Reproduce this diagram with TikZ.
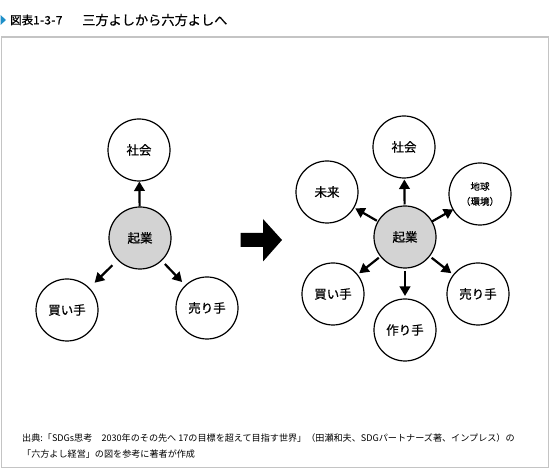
\documentclass[tikz,border=0pt]{standalone}
\usepackage{fontspec}
\setmainfont{Noto Sans CJK JP}
\newfontfamily\medfont{Noto Sans CJK JP}[FakeBold=0.6]
\newfontfamily\heavyfont{Noto Sans CJK JP}[FakeBold=0.9]
\usetikzlibrary{arrows.meta,calc}
\definecolor{framegray}{HTML}{C4C4C4}
\definecolor{titleblue}{HTML}{1E8FC8}
\definecolor{coregray}{HTML}{D3D3D3}
\tikzset{
  circ/.style={circle, draw=black, line width=1.2pt, minimum size=62pt, inner sep=0pt, align=center, font=\medfont\fontsize{12.5pt}{14pt}\selectfont},
  core/.style={circ, fill=coregray},
  arr/.style={line width=2.2pt, -{Triangle[length=9.5pt,width=10.5pt]}},
}
\newcommand{\linkarrow}[2]{\draw[arr] ($(#1)!0.5!(#2)!12.5pt!(#1)$) -- ($(#1)!0.5!(#2)!12.5pt!(#2)$);}
\begin{document}
\begin{tikzpicture}[x=1pt,y=-1pt]
\useasboundingbox (0,0) rectangle (550,470);
% title
\fill[titleblue] (0.5,15) -- (6,20) -- (0.5,25) -- cycle;
\node[anchor=west, inner sep=0pt, font=\heavyfont\fontsize{11.5pt}{13pt}\selectfont] (fig) at (10,20) {図表1\kern0.5pt-\kern0.5pt3\kern0.5pt-\kern0.5pt7};
\node[anchor=west, inner sep=0pt, font=\medfont\fontsize{13.2pt}{15pt}\selectfont] (title) at (82,20) {三方よしから六方よしへ};
% frame
\draw[framegray, line width=1.5pt] (1.5,37) rectangle (548.5,467.5);
% left diagram
\node[core] (c1) at (140,238) {起業};
\node[circ] (s1) at (139,150) {社会};
\node[circ] (b1) at (67,310) {買い手};
\node[circ] (u1) at (207,308) {売り手};
\linkarrow{c1}{s1}
\linkarrow{c1}{b1}
\linkarrow{c1}{u1}
% big arrow
\fill[black] (240.5,233) -- (263,233) -- (263,219) -- (282,240) -- (263,261.5) -- (263,247) -- (240.5,247) -- cycle;
% right diagram
\node[core] (c2) at (405,237) {起業};
\node[circ] (s2) at (404,147) {社会};
\node[circ] (m2) at (327,192) {未来};
\node[circ, font=\medfont\fontsize{9.5pt}{15pt}\selectfont] (e2) at (480,194) {地球\\（環境）};
\node[circ] (b2) at (333,294) {買い手};
\node[circ] (t2) at (405,330) {作り手};
\node[circ] (u2) at (478,294) {売り手};
\linkarrow{c2}{s2}
\linkarrow{c2}{m2}
\linkarrow{c2}{e2}
\linkarrow{c2}{b2}
\linkarrow{c2}{t2}
\linkarrow{c2}{u2}
% source
\node[anchor=west, inner sep=0pt, align=left, font=\fontsize{9.1pt}{16pt}\selectfont] (src) at (22,446) {出典:「SDGs思考　2030年のその先へ 17の目標を超えて目指す世界」（田瀬和夫、SDGパートナーズ著、インプレス）の\\「六方よし経営」の図を参考に著者が作成};
\end{tikzpicture}
\end{document}
